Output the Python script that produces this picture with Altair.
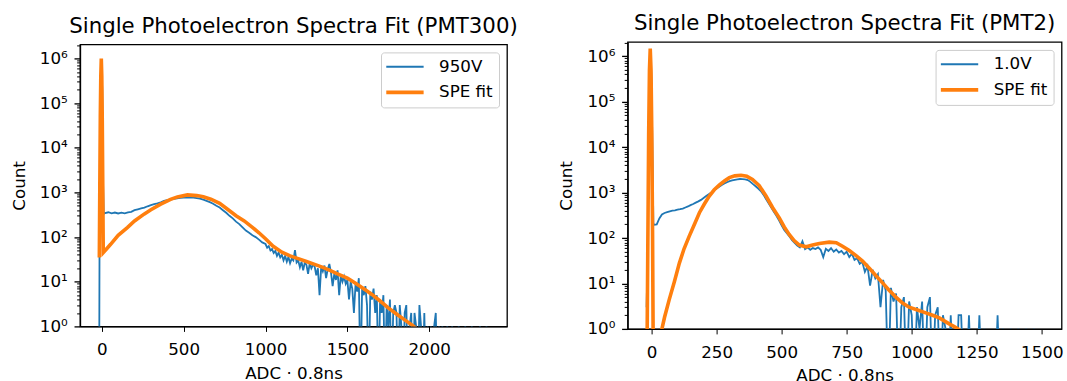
import altair as alt
import numpy as np
import pandas as pd

BLUE = "#1f77b4"
ORANGE = "#ff7f0e"
FONT = "DejaVu Sans"

# ---------------- Left panel: PMT300, 950V ----------------
L_LABEL = "950V"
L_BLUE_X = ([-16, -14, -10, -3, 3, 8, 12]
            + list(range(20, 1000, 20))
            + list(range(1000, 2360, 10)))
L_BLUE_C = ([0, 35, 2e4, 9.5e5, 2e5, 1500, 330]
            # 20 .. 980 step 20
            + [345, 360, 340, 355, 338, 352, 340, 358, 368, 400,
               420, 440, 457, 490, 520, 545, 570, 600, 645, 670,
               695, 715, 740, 755, 765, 770, 770, 765, 750, 730,
               690, 650, 605, 560, 505, 460, 400, 350, 300, 262,
               222, 195, 165, 140, 125, 110, 100, 88, 76]
            # 1000 .. 2350 step 10
            + [70, 58, 63, 50, 54, 44, 49, 38, 45, 35,
               40, 30, 38, 28, 36, 26, 33, 30, 51, 27,
               30, 21, 28, 18, 27, 24, 15, 26, 20, 24,
               22, 14, 20, 5, 21, 17, 23, 12, 19, 25,
               16, 8, 15, 11, 18, 5, 14, 10, 13, 9,
               11, 4, 10, 7, 2, 9, 6, 12, 0, 7,
               5, 8, 3, 0, 6, 4, 7, 2, 5, 0,
               4, 2, 5, 0, 3, 1, 4, 0, 2, 3,
               2, 0, 3, 1, 0, 2, 3, 0, 1, 2,
               0, 2, 1, 0, 3, 1, 0, 2, 0, 1,
               0, 1, 0, 1, 2, 0, 1, 0, 1, 0,
               0, 1, 0, 0, 1, 0, 0, 0, 1, 0,
               0, 0, 1, 0, 0, 0, 1, 0, 0, 0,
               0, 1, 0, 0, 0, 1])
L_FIT_X = [-15, -12, -9, -6, -3, 0, 3, 6, 9, 30, 54, 100, 156, 200, 258, 300,
           360, 420, 462, 523, 580, 620, 666, 720, 768, 820, 870, 920, 960,
           1000, 1045, 1100, 1150, 1200, 1250, 1300, 1350, 1400, 1450, 1500,
           1550, 1600, 1650, 1700, 1750, 1800, 1850, 1900, 1930]
L_FIT_C = [35, 1500, 5e4, 4e5, 1e6, 4e5, 4e4, 1500, 45, 55, 69, 110, 163, 230,
           327, 410, 547, 700, 795, 880, 850, 800, 707, 570, 420, 300, 230,
           165, 125, 92, 63, 46, 38, 33, 28.5, 24.5, 21, 17.5, 14.5, 12,
           9.3, 7, 5.2, 3.7, 2.6, 1.9, 1.4, 1.04, 0.85]

# ---------------- Right panel: PMT2, 1.0V ----------------
R_LABEL = "1.0V"
R_BLUE_X = [-19, -15, -8, -4, 0, 4, 7] + list(range(10, 1500, 10))
R_BLUE_C = ([3, 50, 2e5, 1.2e6, 3e5, 5000, 210]
            # 10 .. 490
            + [195, 200, 270, 330, 355, 370, 385, 400, 405, 420,
               430, 445, 470, 495, 530, 560, 600, 640, 690, 760,
               840, 920, 1010, 1120, 1230, 1350, 1470, 1580, 1690, 1780,
               1850, 1910, 1960, 1990, 1980, 1950, 1880, 1720, 1530, 1380,
               1230, 1080, 900, 720, 580, 470, 380, 310, 245]
            # 500 .. 1490
            + [190, 150, 128, 108, 90, 78, 68, 62, 85, 57,
               62, 55, 60, 57, 62, 55, 38, 58, 52, 60,
               50, 56, 48, 52, 44, 50, 38, 45, 33, 36,
               27, 30, 18, 24, 9, 20, 13, 16, 3, 12,
               7, 0, 8, 4, 6, 0, 3, 5, 0, 4,
               2, 0, 3, 1, 4, 0, 3, 5, 0, 2,
               3, 0, 2, 1, 0, 2, 0, 0, 2, 2,
               0, 0, 2, 0, 0, 0, 2, 0, 1, 0,
               0, 0, 0, 2, 0, 1, 0, 0, 1, 0,
               0, 1, 0, 0, 1, 0, 0, 1, 0, 0])
R_FIT_X = [-18, -14, -11, -8, -5, -2, 1, 4, 6, 8, 25, 40, 50, 68, 88, 107, 125,
           145, 165, 184, 203, 222, 241, 260, 280, 299, 320, 344, 366, 388,
           414, 440, 465, 491, 510, 529, 548, 568, 594, 619, 645, 683, 710,
           734, 760, 786, 811, 837, 862, 888, 914, 939, 965, 990, 1022, 1054,
           1080, 1106, 1125, 1144, 1160, 1176, 1195]
R_FIT_C = [0.1, 110, 2e4, 5e5, 1.47e6, 5e5, 2e4, 110, 1, 0.01, 0.1, 1, 1.8,
           4.4, 11, 28, 58, 110, 200, 360, 560, 840, 1150, 1460, 1800, 2130,
           2330, 2400, 2280, 1950, 1420, 840, 470, 278, 175, 120, 88, 70, 64,
           70, 76, 81, 79, 66, 53, 41, 31, 21.5, 15, 10.3, 7, 5, 3.7, 3, 2.6,
           2.25, 2, 1.75, 1.5, 1.29, 1.15, 1.02, 0.85]

Y_VALUES = [m * 10 ** k for k in range(7) for m in range(1, 10) if m * 10 ** k <= 2e6]

IS_MAJOR = "abs(log(datum.value)/LN10 - round(log(datum.value)/LN10)) < 1e-6"
LABEL_EXPR = (IS_MAJOR + " ? '10' + ['\u2070','\u00b9','\u00b2','\u00b3','\u2074','\u2075','\u2076']"
              "[round(log(datum.value)/LN10)] : ''")


def frame(xs, cs, name):
    c = np.asarray(cs, dtype=float)
    # empty bins fall below the log axis (drawn off the bottom, clipped)
    c = np.where(c > 0, c, 0.05)
    return pd.DataFrame({"x": xs, "count": c, "series": name})


def panel(label, bx, bc, fx, fc, title, xdom, xticks, width, height):
    dom = [label, "SPE fit"]
    color = alt.Color("series:N", scale=alt.Scale(domain=dom, range=[BLUE, ORANGE]),
                      legend=alt.Legend(title=None, orient="top-right"))
    sw = alt.StrokeWidth("series:N", scale=alt.Scale(domain=dom, range=[1.8, 3.6]),
                         legend=alt.Legend(title=None, orient="top-right"))
    x = alt.X("x:Q", scale=alt.Scale(domain=xdom, nice=False, zero=False),
              axis=alt.Axis(values=xticks, title="ADC \u00b7 0.8ns", format="d",
                            labelFlush=False, labelOverlap=False,
                            labelBaseline="alphabetic", labelPadding=23.5,
                            titleY=52, titleBaseline="alphabetic"))
    y = alt.Y("count:Q", scale=alt.Scale(type="log", domain=[1, 2.07e6], nice=False),
              axis=alt.Axis(values=Y_VALUES, labelExpr=LABEL_EXPR, labelOverlap=False,
                            labelPadding=6.7, labelBaseline="middle",
                            labelFontSize={"condition": {"test": IS_MAJOR, "value": 16.7}, "value": 0},
                            tickSize={"condition": {"test": IS_MAJOR, "value": 6}, "value": 3.4},
                            tickWidth={"condition": {"test": IS_MAJOR, "value": 1.3}, "value": 1.0},
                            title="Count", titleX=-55.7, titleBaseline="alphabetic"))
    blue = alt.Chart(frame(bx, bc, label)).mark_line(clip=True).encode(
        x=x, y=y, color=color, strokeWidth=sw)
    fit = alt.Chart(frame(fx, fc, "SPE fit")).mark_line(clip=True).encode(
        x=x, y=y, color=color, strokeWidth=sw)
    return alt.layer(blue, fit).properties(
        width=width, height=height, title=alt.TitleParams(text=title))


left = panel(L_LABEL, L_BLUE_X, L_BLUE_C, L_FIT_X, L_FIT_C,
             "Single Photoelectron Spectra Fit (PMT300)", [-133, 2475],
             [0, 500, 1000, 1500, 2000], 427, 282)
right = panel(R_LABEL, R_BLUE_X, R_BLUE_C, R_FIT_X, R_FIT_C,
              "Single Photoelectron Spectra Fit (PMT2)", [-92, 1576],
              [0, 250, 500, 750, 1000, 1250, 1500], 434, 287)

chart = (
    alt.hconcat(left, right, spacing=120.6, bounds="flush", center=True)
    .resolve_scale(x="independent", y="independent", color="independent",
                   strokeWidth="independent")
    .resolve_legend(color="independent", strokeWidth="independent")
    .properties(padding={"left": 10.0, "top": 11.9, "right": 3, "bottom": 3},
                background="white")
    .configure_view(stroke="black", strokeWidth=1.3)
    .configure_axis(labelFont=FONT, labelFontSize=16.7, labelColor="black",
                    titleFont=FONT, titleFontSize=16.7, titleFontWeight="normal",
                    titleColor="black", domainColor="black", domainWidth=1.3,
                    tickColor="black", grid=False)
    .configure_title(font=FONT, fontSize=21.3, fontWeight="normal", color="black",
                     offset=7.5, baseline="alphabetic", frame="group", anchor="middle")
    .configure_legend(labelFont=FONT, labelFontSize=16.7, labelColor="black",
                      fillColor="white", strokeColor="#cccccc", cornerRadius=3,
                      padding=6, symbolSize=155, symbolType="M-3,0H3",
                      symbolOffset=9.45, labelOffset=25.6, rowPadding=7.5, offset=8)
)

chart.save("out.html", embed_options={"renderer": "svg", "actions": False})
